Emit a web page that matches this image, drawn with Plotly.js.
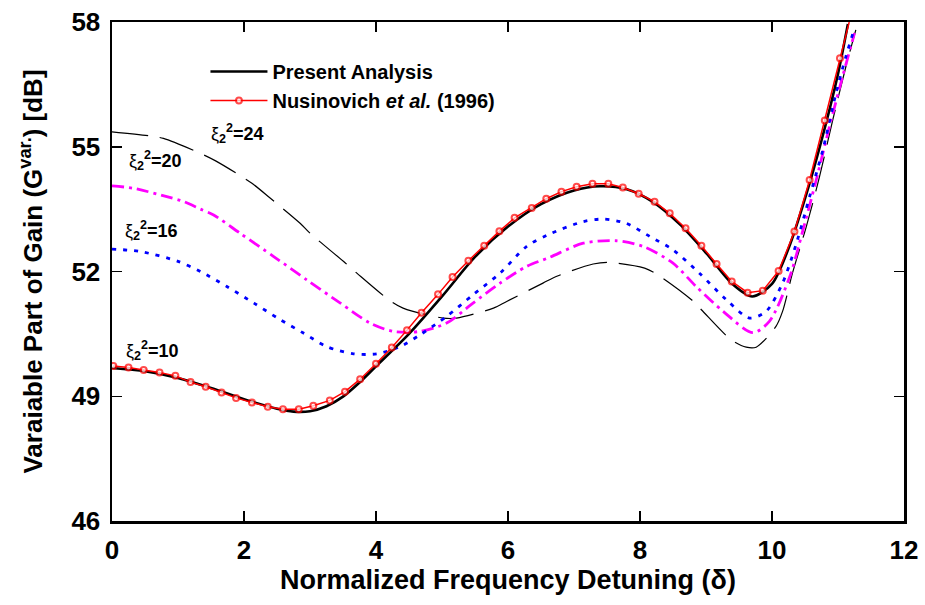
<!DOCTYPE html>
<html><head><meta charset="utf-8">
<script src="https://cdn.plot.ly/plotly-3.0.1.min.js"></script>
<style>html,body{margin:0;padding:0;background:#fff;}#chart{width:925px;height:605px;}</style>
</head><body><div id="chart"></div>
<script>
// Present Analysis (xi2^2 = 10), black solid
const presX = [0, 0.5, 1.0, 1.5, 2.0, 2.5, 2.75, 3.0, 3.25, 3.5, 3.75, 4.0, 4.5, 5.0, 5.5, 6.0, 6.5, 7.0, 7.4, 7.8, 8.2, 8.6, 9.0, 9.4, 9.7, 10.0, 10.25, 10.5, 10.75, 11.0, 11.15];
const presY = [49.68, 49.6, 49.44, 49.2, 48.93, 48.7, 48.63, 48.64, 48.76, 48.99, 49.33, 49.72, 50.5, 51.4, 52.35, 53.08, 53.62, 53.95, 54.05, 53.98, 53.67, 53.14, 52.45, 51.7, 51.4, 51.7, 52.55, 53.75, 55.15, 56.75, 57.95];
// Nusinovich et al. (1996), red with circles
const nusX = [0.02,0.25,0.48,0.72,0.96,1.19,1.42,1.66,1.88,2.12,2.36,2.59,2.83,3.05,3.30,3.53,3.76,4.0,4.24,4.47,4.69,4.94,5.16,5.40,5.64,5.87,6.10,6.36,6.58,6.81,7.04,7.28,7.52,7.74,7.98,8.22,8.45,8.69,8.93,9.16,9.39,9.63,9.86,10.10,10.34,10.57,10.8,11.03,11.17];
const nusY = [49.73,49.69,49.63,49.57,49.49,49.34,49.23,49.09,48.96,48.85,48.75,48.69,48.69,48.77,48.90,49.11,49.41,49.78,50.17,50.59,51.01,51.45,51.87,52.26,52.62,52.97,53.29,53.53,53.75,53.92,54.04,54.11,54.11,54.02,53.87,53.68,53.40,53.04,52.62,52.18,51.76,51.49,51.54,52.01,52.96,54.20,55.63,57.13,58.0];
// xi2^2 = 16, blue dotted
const x16 = [0, 0.43, 0.99, 1.34, 1.74, 2.15, 2.55, 2.9, 3.26, 3.66, 4.01, 4.36, 4.67, 5.07, 5.47, 5.88, 6.28, 6.6, 7.14, 7.44, 7.79, 8.15, 8.5, 8.9, 9.31, 9.66, 9.91, 10.16, 10.37, 10.57, 10.77, 10.97, 11.12, 11.25];
const y16 = [52.54, 52.48, 52.25, 52.0, 51.64, 51.24, 50.84, 50.52, 50.19, 50.02, 50.02, 50.19, 50.48, 50.92, 51.44, 51.96, 52.6, 52.88, 53.2, 53.26, 53.16, 52.84, 52.52, 51.96, 51.32, 50.88, 51.04, 51.72, 52.68, 53.8, 54.92, 56.29, 57.17, 57.85];
// xi2^2 = 20, magenta dash-dot
const x20 = [0, 0.33, 0.83, 1.09, 1.34, 1.54, 1.94, 2.45, 2.95, 3.46, 3.91, 4.26, 4.67, 5.07, 5.47, 5.88, 6.28, 6.63, 7.14, 7.64, 8.05, 8.5, 8.85, 9.26, 9.71, 9.96, 10.27, 10.47, 10.67, 10.87, 11.07, 11.25];
const y20 = [54.06, 54.0, 53.8, 53.68, 53.5, 53.36, 52.92, 52.36, 51.8, 51.24, 50.76, 50.56, 50.56, 50.76, 51.24, 51.72, 52.12, 52.34, 52.68, 52.74, 52.6, 52.2, 51.64, 51.04, 50.53, 50.8, 51.88, 53.0, 54.2, 55.48, 56.69, 57.73];
// xi2^2 = 24, black long dash
const x24 = [0, 0.58, 0.78, 1.34, 1.57, 2.12, 2.4, 2.85, 3.0, 3.51, 3.71, 4.21, 4.41, 5.02, 5.22, 5.78, 5.98, 6.53, 6.73, 7.29, 7.52, 8.07, 8.27, 8.78, 8.93, 9.38, 9.61, 9.76, 10.06, 10.16, 10.31, 10.52, 10.72, 10.92, 11.12, 11.27];
const y24 = [55.36, 55.26, 55.2, 54.84, 54.66, 54.12, 53.76, 53.16, 52.92, 52.24, 51.96, 51.3, 51.12, 50.88, 50.88, 51.12, 51.28, 51.72, 51.88, 52.18, 52.22, 52.08, 51.92, 51.32, 51.08, 50.36, 50.18, 50.18, 50.68, 51.04, 51.96, 53.08, 54.28, 55.64, 56.93, 57.81];

const legendNames = ['Present Analysis', 'Nusinovich <i>et al.</i> (1996)'];
const xiLabel = '<span style="font-weight:normal">ξ</span>';
const curveLabels = [xiLabel + '<sub>2</sub><sup>2</sup>=24', xiLabel + '<sub>2</sub><sup>2</sup>=20', xiLabel + '<sub>2</sub><sup>2</sup>=16', xiLabel + '<sub>2</sub><sup>2</sup>=10'];
const labelX = [1.9, 0.66, 0.6, 0.62];
const labelY = [55.33, 54.68, 52.98, 50.09];

const F = 'Liberation Sans, Arial, sans-serif';
const nusSizes = nusX.map((v, i) => i === nusX.length - 1 ? 0 : 6);

const traces = [
  {x: x24, y: y24, mode: 'lines', showlegend: false, line: {color: 'black', width: 1.2, dash: '36px,12px', shape: 'spline', smoothing: 0.8}},
  {x: x20, y: y20, mode: 'lines', showlegend: false, line: {color: '#ff00ff', width: 2.8, dash: '12px,5px,3px,5px', shape: 'spline', smoothing: 0.8}},
  {x: x16, y: y16, mode: 'lines', showlegend: false, line: {color: '#0000ff', width: 2.8, dash: '4px,7px', shape: 'spline', smoothing: 0.8}},
  {x: presX, y: presY, mode: 'lines', name: legendNames[0], line: {color: 'black', width: 2.6, shape: 'spline', smoothing: 0.8}},
  {x: nusX, y: nusY, mode: 'lines+markers', name: legendNames[1], line: {color: '#ff0000', width: 1.5}, marker: {symbol: 'circle', size: nusSizes, color: 'white', line: {color: '#ff0000', width: 2}}}
];

const axisCommon = {
  showline: true, linecolor: 'black', linewidth: 2.5, mirror: 'ticks',
  ticks: 'inside', ticklen: 10, tickwidth: 1.5, tickcolor: 'black',
  showgrid: false, zeroline: false,
  tickfont: {family: F, size: 26, color: 'black', weight: 'bold'}
};

const layout = {
  width: 925, height: 605,
  margin: {l: 112, r: 21, t: 22, b: 84},
  paper_bgcolor: 'white', plot_bgcolor: 'white',
  xaxis: Object.assign({}, axisCommon, {range: [0, 12], dtick: 2, tick0: 0, ticklabelstandoff: 4,
    title: {text: 'Normalized Frequency Detuning (δ)', font: {family: F, size: 27, color: 'black', weight: 'bold'}, standoff: 6}}),
  yaxis: Object.assign({}, axisCommon, {range: [46, 58], dtick: 3, tick0: 46, ticklabelstandoff: 4,
    title: {text: 'Varaiable Part of Gain (G<sup>var.</sup>) [dB]', font: {family: F, size: 26, color: 'black', weight: 'bold'}, standoff: 22}}),
  legend: {x: 0.118, y: 0.94, xanchor: 'left', yanchor: 'top', bgcolor: 'rgba(0,0,0,0)', itemwidth: 57,
    font: {family: F, size: 20, color: 'black', weight: 'bold'}, tracegroupgap: 0},
  annotations: curveLabels.map((t, i) => ({x: labelX[i], y: labelY[i], xref: 'x', yref: 'y', text: t, showarrow: false,
    font: {family: F, size: 18, color: 'black', weight: 'bold'}}))
};

Plotly.newPlot('chart', traces, layout, {displayModeBar: false, staticPlot: true});
</script>
</body></html>
